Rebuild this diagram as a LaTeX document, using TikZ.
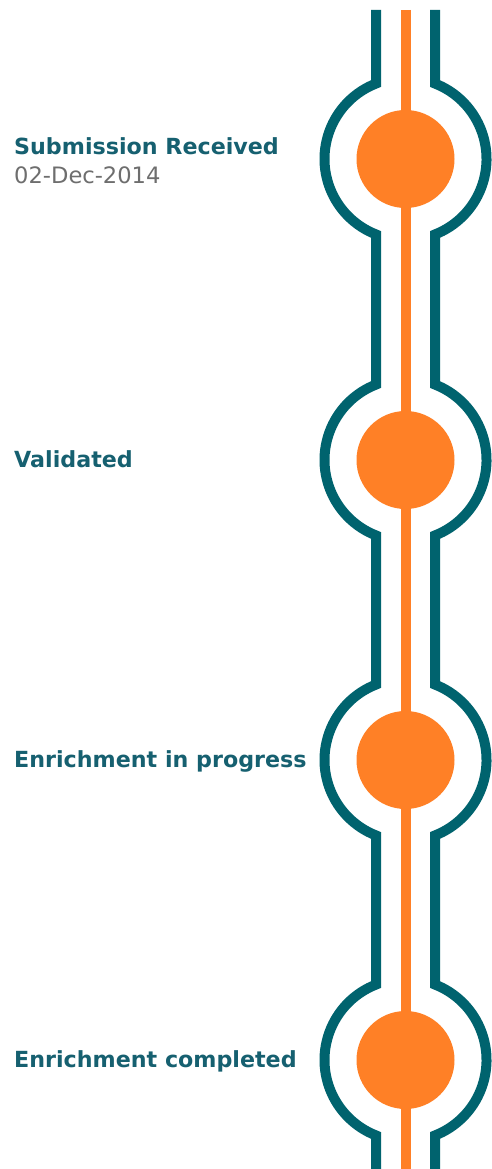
\documentclass[tikz,border=0pt]{standalone}
\usepackage{fontspec}
\setmainfont{DejaVu Sans}
\definecolor{teal}{RGB}{0,99,110}
\definecolor{orng}{RGB}{255,128,38}
\definecolor{labteal}{RGB}{22,96,112}
\definecolor{dategray}{RGB}{110,110,110}
\begin{document}
\begin{tikzpicture}[x=1pt,y=-1pt,
  rail/.style={draw=teal,line width=10pt,line join=miter},
  core/.style={draw=orng,line width=10pt},
  stop/.style={circle,fill=orng,minimum size=98pt,inner sep=0pt},
  lab/.style={anchor=base west,inner sep=0pt,text=labteal,font=\fontsize{22.2}{26}\selectfont\bfseries},
  datelab/.style={anchor=base west,inner sep=0pt,text=dategray,font=\fontsize{22.6}{26}\selectfont}]
\useasboundingbox (0,0) rectangle (491,1169);
\fill[white] (0,0) rectangle (491,1169);
% orange core line
\coordinate (ctop) at (405.5,10);
\coordinate (cbot) at (405.5,1175);
\draw[core] (ctop) -- (cbot);
% teal rails
\draw[rail] (376,10) -- (376,83.56) arc[start angle=111.36,end angle=248.64,radius=81pt]
  -- (376,384.56) arc[start angle=111.36,end angle=248.64,radius=81pt]
  -- (376,684.56) arc[start angle=111.36,end angle=248.64,radius=81pt]
  -- (376,984.56) arc[start angle=111.36,end angle=248.64,radius=81pt]
  -- (376,1175);
\draw[rail] (435,10) -- (435,83.56) arc[start angle=68.64,end angle=-68.64,radius=81pt]
  -- (435,384.56) arc[start angle=68.64,end angle=-68.64,radius=81pt]
  -- (435,684.56) arc[start angle=68.64,end angle=-68.64,radius=81pt]
  -- (435,984.56) arc[start angle=68.64,end angle=-68.64,radius=81pt]
  -- (435,1175);
% stops
\node[stop] (s1) at (405.5,159) {};
\node[stop] (s2) at (405.5,460) {};
\node[stop] (s3) at (405.5,760) {};
\node[stop] (s4) at (405.5,1060) {};
% labels
\node[lab] (l1) at (14,155) {Submission Received};
\node[datelab] (d1) at (14,183) {02-Dec-2014};
\node[lab] (l2) at (14,467) {Validated};
\node[lab] (l3) at (14,767) {Enrichment in progress};
\node[lab] (l4) at (14,1067) {Enrichment completed};
\end{tikzpicture}
\end{document}
